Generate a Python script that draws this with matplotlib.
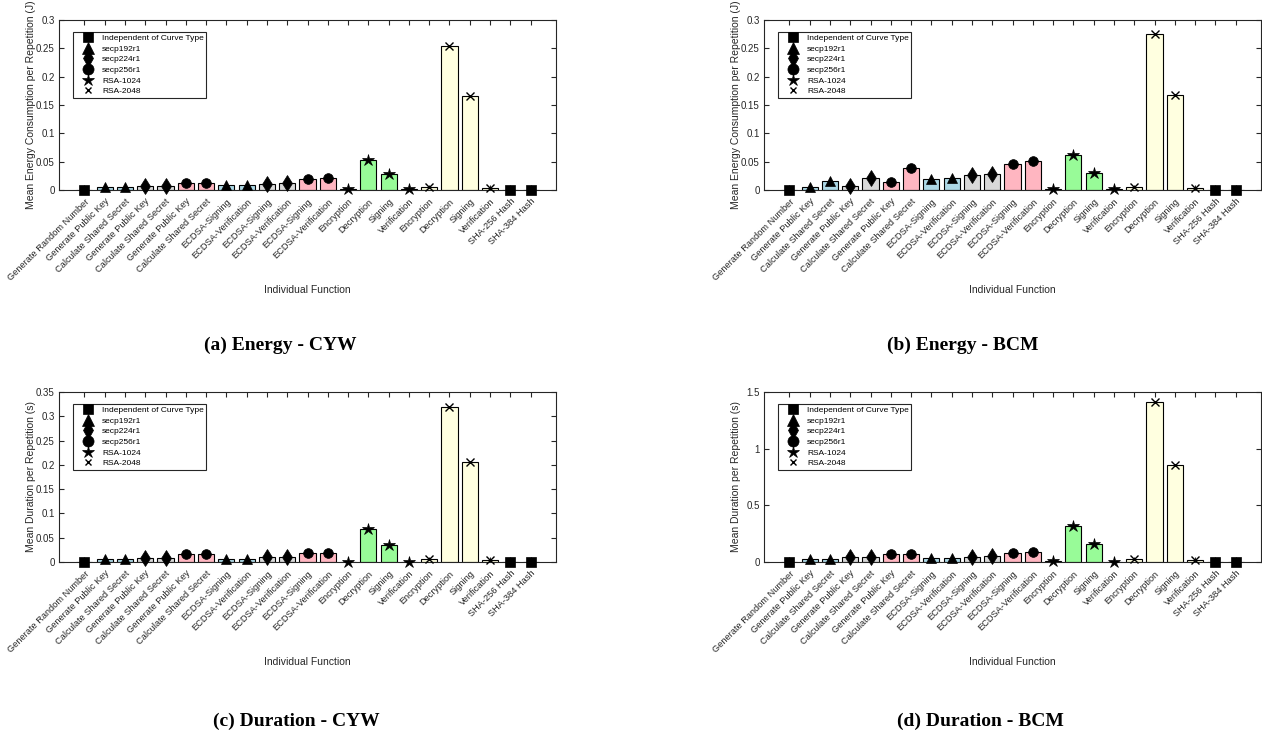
import matplotlib
matplotlib.use("Agg")
import matplotlib.pyplot as plt
from matplotlib.lines import Line2D
import numpy as np

plt.rcParams['font.family'] = ['Liberation Sans', 'DejaVu Sans']

categories = [
    "Generate Random Number",
    "Generate Public Key", "Calculate Shared Secret",
    "Generate Public Key", "Calculate Shared Secret",
    "Generate Public Key", "Calculate Shared Secret",
    "ECDSA-Signing", "ECDSA-Verification",
    "ECDSA-Signing", "ECDSA-Verification",
    "ECDSA-Signing", "ECDSA-Verification",
    "Encryption", "Decryption", "Signing", "Verification",
    "Encryption", "Decryption", "Signing", "Verification",
    "SHA-256 Hash", "SHA-384 Hash",
]

# group index of each bar: 0 independent, 1 secp192r1, 2 secp224r1, 3 secp256r1, 4 RSA-1024, 5 RSA-2048
groups = [0, 1, 1, 2, 2, 3, 3, 1, 1, 2, 2, 3, 3, 4, 4, 4, 4, 5, 5, 5, 5, 0, 0]
group_names = ["Independent of Curve Type", "secp192r1", "secp224r1", "secp256r1", "RSA-1024", "RSA-2048"]

energy_cyw = [0.0, 0.005, 0.005, 0.007, 0.007, 0.013, 0.013, 0.009, 0.009, 0.011, 0.012,
              0.019, 0.021, 0.001, 0.053, 0.028, 0.001, 0.006, 0.254, 0.166, 0.003, 0.0, 0.0]
energy_bcm = [0.0, 0.005, 0.016, 0.007, 0.021, 0.014, 0.039, 0.020, 0.021, 0.026, 0.029,
              0.046, 0.051, 0.002, 0.062, 0.030, 0.001, 0.005, 0.276, 0.168, 0.004, 0.0, 0.0]
duration_cyw = [0.0, 0.006, 0.006, 0.009, 0.009, 0.016, 0.016, 0.007, 0.007, 0.010, 0.010,
                0.018, 0.019, 0.001, 0.067, 0.035, 0.001, 0.007, 0.319, 0.205, 0.004, 0.0, 0.0]
duration_bcm = [0.0, 0.030, 0.030, 0.040, 0.040, 0.074, 0.074, 0.032, 0.035, 0.044, 0.050,
                0.083, 0.091, 0.010, 0.318, 0.159, 0.003, 0.030, 1.413, 0.855, 0.020, 0.0, 0.0]

panels = [
    (energy_cyw, "Mean Energy Consumption per Repetition (J)", [0, 0.05, 0.1, 0.15, 0.2, 0.25, 0.3],
     ["0", "0.05", "0.1", "0.15", "0.2", "0.25", "0.3"], 0.3, "(a) Energy - CYW"),
    (energy_bcm, "Mean Energy Consumption per Repetition (J)", [0, 0.05, 0.1, 0.15, 0.2, 0.25, 0.3],
     ["0", "0.05", "0.1", "0.15", "0.2", "0.25", "0.3"], 0.3, "(b) Energy - BCM"),
    (duration_cyw, "Mean Duration per Repetition (s)", [0, 0.05, 0.1, 0.15, 0.2, 0.25, 0.3, 0.35],
     ["0", "0.05", "0.1", "0.15", "0.2", "0.25", "0.3", "0.35"], 0.35, "(c) Duration - CYW"),
    (duration_bcm, "Mean Duration per Repetition (s)", [0, 0.5, 1, 1.5],
     ["0", "0.5", "1", "1.5"], 1.5, "(d) Duration - BCM"),
]

bar_colors = ['#FFFFFF', '#ADD8E6', '#D9D9D9', '#FFB6C1', '#98FB98', '#FFFFE0']
markers = ['s', '^', 'd', 'o', '*', 'x']
msizes = [6.5, 7.5, 8.5, 7, 9, 5.5]
lsizes = [6.5, 8, 9, 8, 9, 5]

W, H = 1262, 740
fig = plt.figure(figsize=(W / 100, H / 100), dpi=100)

axc = '#262626'
rects = [
    (59, 20), (764, 20), (59, 392), (764, 392),
]
caption_pos = [(280, 345), (963, 345), (296, 721), (980, 721)]
aw, ah = 497, 170

x = np.arange(1, len(categories) + 1)

for i, (vals, ylab, yt, ytl, ymax, cap) in enumerate(panels):
    l, t = rects[i]
    ax = fig.add_axes([l / W, 1 - (t + ah) / H, aw / W, ah / H])
    cols = [bar_colors[g] for g in groups]
    ax.bar(x, vals, width=0.8, color=cols, edgecolor='black', linewidth=0.8, zorder=2)
    for g in range(6):
        idx = [k for k in range(len(groups)) if groups[k] == g]
        xs = [x[k] for k in idx]
        ys = [vals[k] for k in idx]
        ax.plot(xs, ys, linestyle='none', marker=markers[g], markersize=msizes[g],
                color='black', markeredgewidth=1.0 if g == 5 else 0.5, zorder=3, clip_on=False)
    ax.set_xlim(-0.25, 24.25)
    ax.set_ylim(0, ymax)
    ax.set_yticks(yt)
    ax.set_yticklabels(ytl)
    ax.set_xticks(x)
    ax.set_xticklabels(categories, rotation=45, ha='right', rotation_mode='anchor')
    ax.tick_params(axis='both', direction='in', top=True, right=True, length=3.5, width=0.8,
                   colors=axc, labelsize=7, pad=3)
    ax.tick_params(axis='x', pad=5, labelsize=6.7)
    for s in ax.spines.values():
        s.set_color(axc)
        s.set_linewidth(0.8)
    ax.set_xlabel("Individual Function", fontsize=7.5, color=axc, va='center')
    ax.xaxis.set_label_coords(0.5, -100 / ah)
    ax.set_ylabel(ylab, fontsize=7.5, color=axc)
    ax.yaxis.set_label_coords(-0.046, 0.5)
    handles = [Line2D([], [], linestyle='none', marker=markers[g], markersize=lsizes[g],
                      color='black', markeredgewidth=1.0 if g == 5 else 0.5) for g in range(6)]
    leg = ax.legend(handles, group_names, loc='upper left', bbox_to_anchor=(0.028, 0.93),
                    borderaxespad=0, fontsize=6.0, fancybox=False, framealpha=1,
                    edgecolor=axc, labelspacing=0.33, handletextpad=0.2, handlelength=3.0,
                    borderpad=0.3)
    leg.get_frame().set_linewidth(0.8)
    cx, cy = caption_pos[i]
    fig.text(cx / W, 1 - cy / H, cap, ha='center', va='center', fontsize=14,
             fontweight='bold', family=['Liberation Serif', 'DejaVu Serif'], color='black')

fig.savefig("out.png", dpi=100)
